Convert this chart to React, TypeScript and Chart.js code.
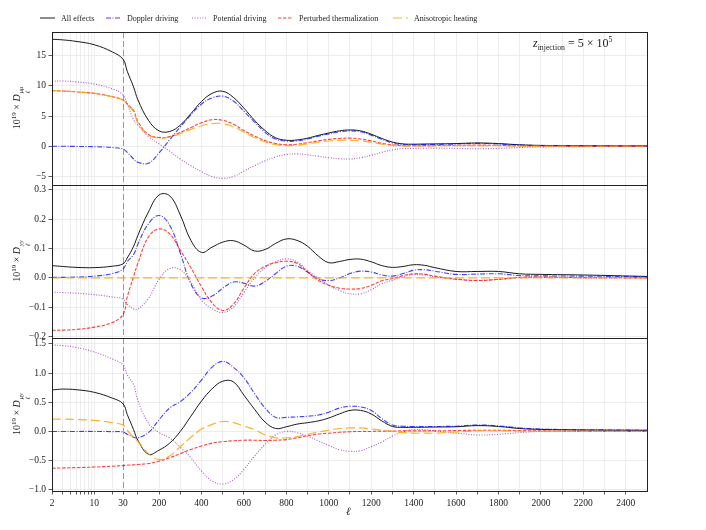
import { useEffect, useRef } from 'react';
import { Chart, registerables, LinearScale } from 'chart.js';

// multipole grid shared by every curve
const ELL = [2, 3, 5, 10, 20, 30, 50, 80, 100, 150, 200, 250, 300, 350, 400, 450, 500, 550, 600, 650, 700, 750, 800, 850, 900, 950, 1000, 1050, 1100, 1150, 1200, 1250, 1300, 1350, 1400, 1450, 1500, 1600, 1700, 1800, 1900, 2000, 2200, 2500];

// top panel: mu mu
const ALL_MUMU = [17.7, 17.6, 17.35, 16.8, 15.6, 14.4, 12.4, 9.8, 7.7, 4.3, 2.55, 2.45, 3.5, 5.4, 7.4, 8.75, 9.1, 8.1, 6.3, 4.3, 2.6, 1.4, 1.0, 1.05, 1.35, 1.8, 2.2, 2.55, 2.7, 2.55, 2.0, 1.3, 0.7, 0.4, 0.35, 0.38, 0.4, 0.45, 0.55, 0.45, 0.25, 0.15, 0.1, 0.05];
const DOP_MUMU = [0.0, 0.0, -0.02, -0.06, -0.2, -0.45, -1.0, -2.1, -2.65, -2.8, -1.1, 1.1, 3.2, 5.2, 7.0, 8.0, 8.3, 7.5, 5.8, 4.0, 2.3, 1.2, 0.85, 0.9, 1.2, 1.65, 2.05, 2.4, 2.55, 2.4, 1.85, 1.15, 0.55, 0.3, 0.25, 0.28, 0.3, 0.38, 0.48, 0.38, 0.2, 0.12, 0.08, 0.04];
const POT_MUMU = [10.8, 10.8, 10.65, 10.3, 9.5, 8.5, 7.0, 4.4, 3.5, 1.6, 0.4, -0.8, -2.1, -3.2, -4.2, -5.0, -5.3, -5.0, -4.1, -3.2, -2.4, -1.75, -1.35, -1.25, -1.4, -1.65, -1.9, -2.05, -2.1, -1.9, -1.5, -1.0, -0.6, -0.4, -0.35, -0.32, -0.3, -0.35, -0.4, -0.35, -0.2, -0.1, -0.05, 0.0];
const RED_MUMU = [9.2, 9.15, 9.0, 8.75, 8.2, 7.65, 7.0, 5.9, 4.1, 1.95, 1.45, 1.6, 2.3, 3.1, 3.9, 4.4, 4.3, 3.65, 2.6, 1.7, 0.95, 0.45, 0.25, 0.35, 0.6, 0.9, 1.15, 1.3, 1.35, 1.2, 0.9, 0.5, 0.25, 0.1, 0.1, 0.11, 0.12, 0.15, 0.2, 0.15, 0.08, 0.05, 0.03, 0.02];
const ANI_MUMU = [9.2, 9.15, 9.0, 8.75, 8.2, 7.65, 6.9, 5.7, 3.9, 1.85, 1.35, 1.5, 2.1, 2.8, 3.4, 3.75, 3.75, 3.25, 2.35, 1.45, 0.75, 0.28, 0.1, 0.18, 0.42, 0.68, 0.88, 1.0, 1.0, 0.9, 0.65, 0.35, 0.15, 0.05, 0.05, 0.06, 0.08, 0.1, 0.12, 0.1, 0.05, 0.03, 0.02, 0.01];

// middle panel: y y
const ALL_YY = [0.042, 0.039, 0.036, 0.035, 0.04, 0.048, 0.068, 0.108, 0.145, 0.225, 0.283, 0.28, 0.215, 0.128, 0.087, 0.105, 0.122, 0.127, 0.112, 0.092, 0.097, 0.118, 0.133, 0.128, 0.108, 0.075, 0.052, 0.056, 0.063, 0.064, 0.055, 0.042, 0.036, 0.039, 0.045, 0.043, 0.035, 0.022, 0.022, 0.022, 0.014, 0.012, 0.01, 0.005];
const DOP_YY = [0.002, 0.002, 0.003, 0.006, 0.015, 0.03, 0.055, 0.08, 0.115, 0.185, 0.213, 0.18, 0.085, -0.02, -0.068, -0.062, -0.035, -0.014, -0.018, -0.028, -0.012, 0.015, 0.04, 0.04, 0.02, -0.003, -0.009, 0.0, 0.015, 0.023, 0.02, 0.01, 0.006, 0.015, 0.026, 0.028, 0.023, 0.012, 0.013, 0.014, 0.008, 0.007, 0.006, 0.004];
const POT_YY = [-0.048, -0.05, -0.052, -0.057, -0.065, -0.072, -0.09, -0.106, -0.107, -0.07, -0.005, 0.032, 0.028, -0.015, -0.075, -0.105, -0.118, -0.1, -0.05, 0.0, 0.035, 0.055, 0.065, 0.055, 0.025, 0.0, -0.025, -0.043, -0.054, -0.054, -0.04, -0.02, -0.008, 0.004, 0.011, 0.01, 0.003, -0.005, -0.008, -0.005, 0.0, 0.002, 0.0, 0.0];
const RED_YY = [-0.179, -0.178, -0.176, -0.168, -0.152, -0.125, -0.065, 0.005, 0.05, 0.14, 0.167, 0.15, 0.095, 0.035, -0.03, -0.085, -0.111, -0.09, -0.035, 0.015, 0.04, 0.052, 0.057, 0.05, 0.02, -0.008, -0.025, -0.035, -0.038, -0.036, -0.025, -0.01, -0.002, 0.008, 0.014, 0.013, 0.006, -0.004, -0.009, -0.005, 0.002, 0.003, 0.001, 0.0];
const ANI_YY = [0, 0, 0, 0, 0, 0, 0, 0, 0, 0, 0, 0, 0, 0, 0, 0, 0, 0, 0, 0, 0, 0, 0, 0, 0, 0, 0, 0, 0, 0, 0, 0, 0, 0, 0, 0, 0, 0, 0, 0, 0, 0, 0, 0];

// bottom panel: mu y
const ALL_MUY = [0.71, 0.725, 0.715, 0.67, 0.57, 0.475, 0.29, 0.03, -0.15, -0.39, -0.32, -0.2, 0.0, 0.26, 0.52, 0.73, 0.86, 0.85, 0.62, 0.38, 0.16, 0.05, 0.08, 0.125, 0.15, 0.18, 0.23, 0.3, 0.36, 0.36, 0.3, 0.18, 0.085, 0.07, 0.07, 0.072, 0.075, 0.08, 0.1, 0.085, 0.05, 0.035, 0.025, 0.02];
const DOP_MUY = [0.0, 0.0, 0.0, 0.0, -0.003, -0.01, -0.05, -0.1, -0.11, -0.02, 0.2, 0.4, 0.51, 0.67, 0.88, 1.1, 1.2, 1.1, 0.92, 0.65, 0.4, 0.24, 0.24, 0.25, 0.26, 0.28, 0.33, 0.4, 0.43, 0.42, 0.36, 0.22, 0.11, 0.09, 0.085, 0.085, 0.085, 0.09, 0.11, 0.095, 0.06, 0.04, 0.03, 0.02];
const POT_MUY = [1.48, 1.47, 1.44, 1.36, 1.24, 1.14, 0.97, 0.8, 0.53, 0.14, -0.02, -0.11, -0.27, -0.45, -0.68, -0.85, -0.9, -0.83, -0.65, -0.42, -0.22, -0.06, 0.0, -0.02, -0.08, -0.16, -0.24, -0.31, -0.34, -0.33, -0.26, -0.18, -0.08, 0.0, 0.03, 0.03, 0.01, -0.03, -0.06, -0.05, -0.02, 0.0, 0.0, 0.0];
const RED_MUY = [-0.63, -0.625, -0.62, -0.61, -0.595, -0.585, -0.578, -0.572, -0.565, -0.55, -0.51, -0.45, -0.38, -0.31, -0.25, -0.2, -0.175, -0.16, -0.15, -0.15, -0.155, -0.15, -0.14, -0.11, -0.075, -0.045, -0.03, -0.015, -0.005, 0.0, 0.0, 0.005, 0.005, 0.01, 0.01, 0.01, 0.01, 0.015, 0.02, 0.02, 0.015, 0.01, 0.005, 0.0];
const ANI_MUY = [0.21, 0.21, 0.205, 0.19, 0.15, 0.11, 0.02, -0.1, -0.17, -0.38, -0.48, -0.42, -0.26, -0.1, 0.04, 0.12, 0.17, 0.15, 0.09, 0.03, -0.06, -0.11, -0.11, -0.09, -0.05, -0.01, 0.02, 0.05, 0.06, 0.06, 0.04, 0.02, 0.0, -0.02, -0.03, -0.03, -0.03, -0.01, 0.01, 0.01, 0.005, 0.0, 0.0, 0.0];

const SERIES_LABELS = ['All effects', 'Doppler driving', 'Potential driving', 'Perturbed thermalization', 'Anisotropic heating'];

const Y_TICKS_MUMU = [-5, 0, 5, 10, 15];
const Y_TICKS_YY = [-0.2, -0.1, 0, 0.1, 0.2, 0.3];
const Y_TICKS_MUY = [-1, -0.5, 0, 0.5, 1, 1.5];

const X_GRID = [2, 3, 4, 5, 6, 7, 8, 9, 10, 20, 30, 100, 200, 300, 400, 500, 600, 700, 800, 900, 1000, 1100, 1200, 1300, 1400, 1500, 1600, 1700, 1800, 1900, 2000, 2100, 2200, 2300, 2400];
const X_LABELS = [2, 10, 30, 200, 400, 600, 800, 1000, 1200, 1400, 1600, 1800, 2000, 2200, 2400];

const L_MIN = 2;
const L_SPLIT = 30;
const L_MAX = 2500;
const LOG_SHARE = 71 / 595; // part of the axis width taken by the log section

const FONT = '"Liberation Serif", "DejaVu Serif", serif';

const STYLES = [
  { color: '#1a1a1a', dash: [] as number[], width: 1 },
  { color: 'rgba(0, 0, 255, 0.75)', dash: [5, 1.5, 1, 1.5], width: 1.1 },
  { color: 'rgba(160, 60, 190, 0.85)', dash: [1, 1.6], width: 1.1 },
  { color: 'rgba(255, 0, 0, 0.75)', dash: [3.5, 1.5], width: 1.1 },
  { color: 'rgba(255, 165, 0, 0.85)', dash: [9, 4], width: 1.2 },
];

// log from 2 to 30, linear from 30 to 2500
class HybridScale extends LinearScale {
  static id = 'hybrid';
  static defaults = {};

  determineDataLimits() {
    this.min = L_MIN;
    this.max = L_MAX;
  }

  buildTicks() {
    return X_GRID.map(v => ({ value: v }));
  }

  getPixelForValue(value: number) {
    const f = value <= L_SPLIT
      ? LOG_SHARE * Math.log(value / L_MIN) / Math.log(L_SPLIT / L_MIN)
      : LOG_SHARE + (1 - LOG_SHARE) * (value - L_SPLIT) / (L_MAX - L_SPLIT);
    return this.getPixelForDecimal(f);
  }

  getValueForPixel(pixel: number) {
    const f = this.getDecimalForPixel(pixel);
    return f <= LOG_SHARE
      ? L_MIN * Math.pow(L_SPLIT / L_MIN, f / LOG_SHARE)
      : L_SPLIT + (f - LOG_SHARE) / (1 - LOG_SHARE) * (L_MAX - L_SPLIT);
  }
}

Chart.register(...registerables, HybridScale);

const PANELS = [
  { id: 'yMuMu', series: [ALL_MUMU, DOP_MUMU, POT_MUMU, RED_MUMU, ANI_MUMU] },
  { id: 'yYY', series: [ALL_YY, DOP_YY, POT_YY, RED_YY, ANI_YY] },
  { id: 'yMuY', series: [ALL_MUY, DOP_MUY, POT_MUY, RED_MUY, ANI_MUY] },
];

const fmtY = (digits: number) => (value: number | string) => {
  const v = Number(value);
  const s = Math.abs(v).toFixed(digits);
  return v < 0 ? '\u2212' + s : s;
};

const panelFrames = {
  id: 'panelFrames',
  beforeDatasetsDraw(chart: any) {
    const { ctx, chartArea, scales } = chart;
    const x = Math.round(scales.x.getPixelForValue(L_SPLIT)) + 0.5;
    ctx.save();
    ctx.strokeStyle = '#999';
    ctx.lineWidth = 1;
    ctx.setLineDash([6, 3]);
    ctx.beginPath();
    ctx.moveTo(x, chartArea.top);
    ctx.lineTo(x, chartArea.bottom);
    ctx.stroke();
    ctx.restore();
  },
  afterDatasetsDraw(chart: any) {
    const { ctx, chartArea, scales } = chart;
    ctx.save();
    ctx.strokeStyle = '#222';
    ctx.lineWidth = 1;
    PANELS.forEach(p => {
      const s = scales[p.id];
      ctx.strokeRect(Math.round(chartArea.left) + 0.5, Math.round(s.top) + 0.5,
        Math.round(chartArea.right - chartArea.left), Math.round(s.bottom - s.top));
    });
    ctx.restore();
  },
};

function yScale(ticks: number[], min: number, max: number, digits: number) {
  return {
    type: 'linear',
    position: 'left',
    stack: 'panels',
    stackWeight: 1,
    min,
    max,
    afterBuildTicks: (s: any) => { s.ticks = ticks.map(v => ({ value: v })); },
    afterFit: (s: any) => { s.width = 52; },
    border: { display: false },
    grid: { color: '#e9e9e9', lineWidth: 0.8, tickColor: '#333', tickLength: 3.5, tickWidth: 0.8 },
    ticks: { color: '#222', font: { family: FONT, size: 9.5 }, padding: 2.5, callback: fmtY(digits) },
  };
}

function LegendSample({ color, dash, width }: { color: string; dash: number[]; width: number }) {
  return (
    <svg width={15} height={6} style={{ marginRight: 6, flex: 'none' }}>
      <line x1={0} y1={3} x2={15} y2={3} stroke={color} strokeWidth={width} strokeDasharray={dash.join(' ')} />
    </svg>
  );
}

function AxisTitle({ pair, top }: { pair: string; top: number }) {
  return (
    <div style={{
      position: 'absolute', left: 21, top, transform: 'translate(-50%, -50%) rotate(-90deg)',
      whiteSpace: 'nowrap', fontFamily: FONT, fontSize: 10, color: '#222', lineHeight: 1,
    }}>
      10<sup style={{ fontSize: '70%' }}>19</sup> × <i>D</i>
      <span style={{ display: 'inline-flex', flexDirection: 'column', fontSize: '65%', lineHeight: 1, verticalAlign: '-0.45em', marginLeft: 1 }}>
        <i>{pair}</i>
        <i>ℓ</i>
      </span>
    </div>
  );
}

const LEGEND_X = [40, 106, 192, 278, 393];

export default function App() {
  const canvasRef = useRef<HTMLCanvasElement>(null);

  useEffect(() => {
    if (!canvasRef.current) return;
    const datasets = PANELS.flatMap(p => p.series.map((values, k) => ({
      label: SERIES_LABELS[k],
      data: ELL.map((l, i) => ({ x: l, y: values[i] })),
      yAxisID: p.id,
      borderColor: STYLES[k].color,
      borderDash: STYLES[k].dash,
      borderWidth: STYLES[k].width,
      pointRadius: 0,
      fill: false,
      tension: 0.4,
      order: 5 - k,
    })));

    const chart = new Chart(canvasRef.current, {
      type: 'line',
      data: { datasets: datasets as any },
      plugins: [panelFrames],
      options: {
        responsive: false,
        animation: false,
        layout: { padding: { top: 32, right: 59, bottom: 19, left: 0 } },
        plugins: { legend: { display: false }, tooltip: { enabled: false } },
        scales: {
          x: {
            type: 'hybrid',
            afterFit: (s: any) => { s.height = 20; },
            border: { display: false },
            grid: { color: '#e9e9e9', lineWidth: 0.8, tickColor: '#333', tickLength: 3.5, tickWidth: 0.8 },
            ticks: {
              autoSkip: false, maxRotation: 0, minRotation: 0, padding: 3,
              color: '#222', font: { family: FONT, size: 9.5 },
              callback: (v: any) => (X_LABELS.includes(Number(v)) ? String(v) : ''),
            },
          },
          // left stacks are laid out in reverse, so the top panel comes last
          yMuY: yScale(Y_TICKS_MUY, -1.02, 1.6, 1),
          yYY: yScale(Y_TICKS_YY, -0.205, 0.317, 1),
          yMuMu: yScale(Y_TICKS_MUMU, -6.4, 18.9, 0),
        } as any,
      },
    });

    return () => chart.destroy();
  }, []);

  return (
    <div style={{ position: 'fixed', left: 0, top: 0, width: 706, height: 530, background: '#fff', fontFamily: FONT, color: '#222' }}>
      <canvas ref={canvasRef} width={706} height={530} style={{ position: 'absolute', left: 0, top: 0 }} />

      {SERIES_LABELS.map((label, k) => (
        <div key={label} style={{ position: 'absolute', left: LEGEND_X[k], top: 12, height: 12, display: 'flex', alignItems: 'center', fontSize: 8, whiteSpace: 'nowrap' }}>
          <LegendSample {...STYLES[k]} />
          <span>{label}</span>
        </div>
      ))}

      <AxisTitle pair="μμ" top={108} />
      <AxisTitle pair="yy" top={261} />
      <AxisTitle pair="μy" top={414} />

      <div style={{ position: 'absolute', left: 533, top: 36, fontSize: 12, whiteSpace: 'nowrap', lineHeight: 1 }}>
        <i>z</i><sub style={{ fontSize: '65%' }}>injection</sub> = 5 × 10<sup style={{ fontSize: '65%' }}>5</sup>
      </div>

      <div style={{ position: 'absolute', left: 346, top: 505, fontSize: 11, fontStyle: 'italic' }}>ℓ</div>
    </div>
  );
}
